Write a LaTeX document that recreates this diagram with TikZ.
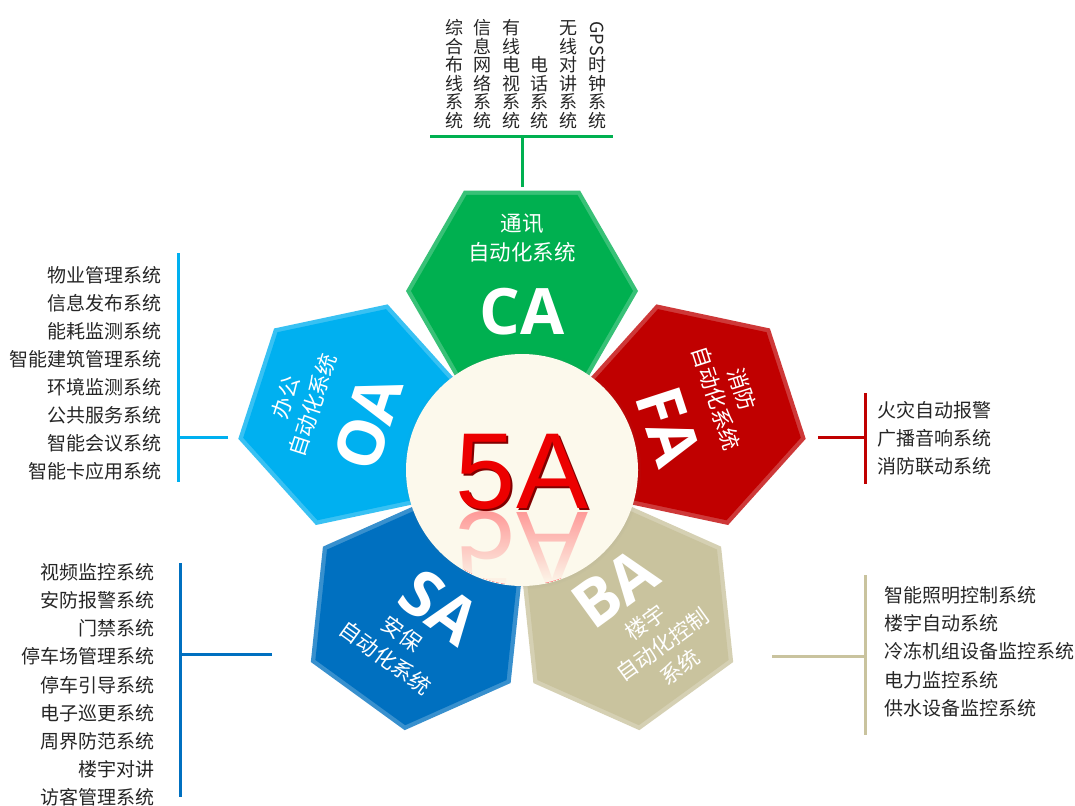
\documentclass[tikz,border=0pt]{standalone}
\usepackage{fontspec}
\usetikzlibrary{positioning, calc, fadings, shadows}
\newfontfamily\zhfont{Noto Sans CJK SC}
\newfontfamily\codefont{Open Sans}
\newfontfamily\fivefont{Liberation Sans}
\definecolor{cagreen}{RGB}{0,176,80}
\definecolor{fared}{RGB}{192,0,0}
\definecolor{batan}{RGB}{201,195,158}
\definecolor{sablue}{RGB}{0,112,192}
\definecolor{oablue}{RGB}{0,176,240}
\definecolor{cream}{RGB}{252,249,236}
\definecolor{fivered}{RGB}{236,0,0}
\definecolor{fivedark}{RGB}{130,0,0}

\begin{document}
\begin{tikzpicture}[
    x=1pt, y=-1pt,
    hexlabel/.style={text=white, font={\zhfont\fontsize{21.5}{24}\selectfont}, inner sep=0},
    hexcode/.style={text=white, font={\codefont\bfseries\fontsize{64}{64}\selectfont}, inner sep=0},
    item/.style={text=black!85, font={\zhfont\fontsize{19}{22}\selectfont}, inner sep=0},
    column/.style={text=black!85, font={\zhfont\fontsize{18}{18.5}\selectfont}, inner sep=0, align=center},
    bar/.style={line width=3pt}
]
    \useasboundingbox[fill=white] (0,0) rectangle (1075,805);
    \coordinate (mid) at (522,470);

    % Hexagons
    \foreach \name/\ang/\col in {ca/90/cagreen, fa/18/fared, ba/-54/batan, sa/-126/sablue, oa/162/oablue}{
        \coordinate (\name) at ($(mid)+(\ang:179pt)$);
        \begin{scope}[shift={(\name)}, rotate=\ang-90]
            \fill[\col!78!white] (0:116pt) \foreach \k in {1,...,5}{ -- (\k*60:116pt)} -- cycle;
            \fill[\col] (0:111pt) \foreach \k in {1,...,5}{ -- (\k*60:111pt)} -- cycle;
        \end{scope}
    }

    % Hexagon labels
    \begin{scope}[shift={(ca)}, transform shape]
        \node[hexlabel] (ca-l1) at (0,-67) {通讯};
        \node[hexlabel] (ca-l2) at (0,-39) {自动化系统};
        \node[hexcode] (ca-code) at (0,21) {CA};
    \end{scope}
    \begin{scope}[shift={(fa)}, rotate=-72, transform shape]
        \node[hexlabel] (fa-l1) at (-9,-55) {消防};
        \node[hexlabel] (fa-l2) at (-8,-28) {自动化系统};
        \node[hexcode] (fa-code) at (4,26) {FA};
    \end{scope}
    \begin{scope}[shift={(oa)}, rotate=72, transform shape]
        \node[hexlabel] (oa-l1) at (-4,-68) {办公};
        \node[hexlabel] (oa-l2) at (-3,-40) {自动化系统};
        \node[hexcode] (oa-code) at (-3,18) {OA};
    \end{scope}
    \begin{scope}[shift={(sa)}, rotate=-36, transform shape]
        \node[hexcode] (sa-code) at (14,-20) {SA};
        \node[hexlabel] (sa-l1) at (-1,24) {安保};
        \node[hexlabel] (sa-l2) at (0,53) {自动化系统};
    \end{scope}
    \begin{scope}[shift={(ba)}, rotate=36, transform shape]
        \node[hexcode] (ba-code) at (6,-29) {BA};
        \node[hexlabel] (ba-l1) at (10,17) {楼宇};
        \node[hexlabel] (ba-l2) at (11,45) {自动化控制};
        \node[hexlabel] (ba-l3) at (12,73) {系统};
    \end{scope}

    % Centre
    \node[circle, fill=cream, minimum size=232pt, inner sep=0,
        circular drop shadow={shadow scale=1.03, shadow xshift=0pt, shadow yshift=0pt, opacity=0.3}] (core) at (mid) {};
    \begin{scope}
        \clip (mid) circle[radius=115pt];
        \node[anchor=base, yscale=-1, text=red!45!white, font={\fivefont\fontsize{108}{108}\selectfont}] (five-r) at (522,512) {5A};
        \fill[cream, path fading=north] (440,500) rectangle (610,585);
    \end{scope}
    \node[anchor=base, text=fivedark, font={\fivefont\fontsize{108}{108}\selectfont}] (five-s) at (524,510) {5A};
    \node[anchor=base, text=fivered, font={\fivefont\fontsize{108}{108}\selectfont}] (five) at (522,508) {5A};

    % CA branch
    \foreach \t [count=\i] in {综\\合\\布\\线\\系\\统, 信\\息\\网\\络\\系\\统, 有\\线\\电\\视\\系\\统, 电\\话\\系\\统, 无\\线\\对\\讲\\系\\统, \rotatebox{-90}{GPS}\\时\\钟\\系\\统}
        \node[column, anchor=south] (ca-\i) at ({454+28.6*(\i-1)}, 129) {\t};
    \coordinate (cabar-l) at (430,137);
    \coordinate (cabar-r) at (613,137);
    \coordinate (ca-stem) at (522,187);
    \draw[bar, cagreen] (cabar-l) -- (cabar-r);
    \draw[bar, cagreen] (ca-stem) -- (ca-stem |- cabar-l);

    % OA branch
    \foreach \t [count=\i] in {物业管理系统, 信息发布系统, 能耗监测系统, 智能建筑管理系统, 环境监测系统, 公共服务系统, 智能会议系统, 智能卡应用系统}
        \node[item, anchor=east] (oa-\i) at (162, {275+28*(\i-1)}) {\t};
    \coordinate (oabar-t) at (178,253);
    \coordinate (oabar-b) at (178,482);
    \coordinate (oa-tip) at (228,437);
    \draw[bar, oablue] (oabar-t) -- (oabar-b);
    \draw[bar, oablue] (oa-tip) -- (oa-tip -| oabar-t);

    % SA branch
    \foreach \t [count=\i] in {视频监控系统, 安防报警系统, 门禁系统, 停车场管理系统, 停车引导系统, 电子巡更系统, 周界防范系统, 楼宇对讲, 访客管理系统}
        \node[item, anchor=east] (sa-\i) at (155, {572+28.2*(\i-1)}) {\t};
    \coordinate (sabar-t) at (180,563);
    \coordinate (sabar-b) at (180,797);
    \coordinate (sa-tip) at (272,654);
    \draw[bar, sablue] (sabar-t) -- (sabar-b);
    \draw[bar, sablue] (sa-tip) -- (sa-tip -| sabar-t);

    % FA branch
    \foreach \t [count=\i] in {火灾自动报警, 广播音响系统, 消防联动系统}
        \node[item, anchor=west] (fa-\i) at (877, {410+28*(\i-1)}) {\t};
    \coordinate (fabar-t) at (865,393);
    \coordinate (fabar-b) at (865,484);
    \coordinate (fa-tip) at (818,437);
    \draw[bar, fared] (fabar-t) -- (fabar-b);
    \draw[bar, fared] (fa-tip) -- (fa-tip -| fabar-t);

    % BA branch
    \foreach \t [count=\i] in {智能照明控制系统, 楼宇自动系统, 冷冻机组设备监控系统, 电力监控系统, 供水设备监控系统}
        \node[item, anchor=west] (ba-\i) at (884, {595+28.3*(\i-1)}) {\t};
    \coordinate (babar-t) at (865,575);
    \coordinate (babar-b) at (865,735);
    \coordinate (ba-tip) at (772,656);
    \draw[bar, batan] (babar-t) -- (babar-b);
    \draw[bar, batan] (ba-tip) -- (ba-tip -| babar-t);
\end{tikzpicture}
\end{document}
